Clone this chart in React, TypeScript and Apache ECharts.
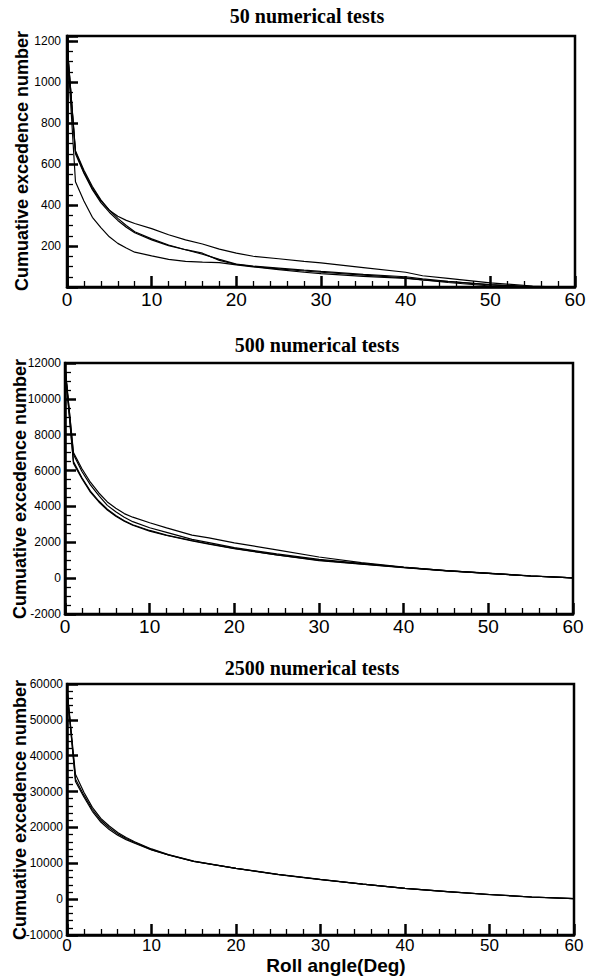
import React, { useEffect, useRef } from "react";
import * as echarts from "echarts";

// ---------- Panel 1: 50 numerical tests ----------
const angles50 = [0, 1, 2, 3, 4, 5, 6, 7, 8, 10, 12, 14, 16, 18, 20, 22, 25, 28, 30, 35, 40, 42, 45, 50, 55, 58, 60];
const run50A = [1190, 514, 420, 340, 290, 245, 213, 190, 170, 152, 135, 125, 121, 119, 108, 98, 85, 72, 65, 52, 42, 35, 26, 12, 2, 0, 0];
const run50B = [1190, 660, 560, 480, 420, 375, 345, 325, 310, 285, 255, 230, 210, 185, 165, 150, 138, 125, 118, 95, 72, 55, 42, 20, 5, 0, 0];
const run50C = [1190, 665, 570, 490, 425, 375, 335, 300, 270, 235, 205, 182, 160, 135, 112, 102, 92, 82, 76, 62, 50, 40, 28, 10, 0, 0, 0];
const run50D = [1190, 650, 555, 475, 412, 365, 325, 292, 265, 230, 202, 182, 165, 130, 110, 100, 88, 78, 72, 58, 45, 35, 22, 5, 0, 0, 0];

// ---------- Panel 2: 500 numerical tests ----------
const angles500 = [0, 1, 2, 3, 4, 5, 6, 7, 8, 10, 12, 15, 17, 20, 25, 30, 35, 40, 45, 50, 55, 60];
const run500A = [11800, 7000, 6100, 5350, 4750, 4250, 3900, 3600, 3400, 3090, 2800, 2400, 2250, 1970, 1580, 1180, 870, 620, 420, 270, 120, 20];
const run500B = [11800, 6900, 5950, 5200, 4600, 4060, 3700, 3400, 3150, 2810, 2550, 2160, 1980, 1700, 1350, 1050, 820, 600, 420, 270, 120, 20];
const run500C = [11800, 6500, 5600, 4850, 4300, 3840, 3500, 3200, 2980, 2660, 2400, 2100, 1920, 1660, 1300, 1000, 800, 600, 420, 280, 130, 20];
const run500D = [11800, 6400, 5550, 4800, 4250, 3800, 3450, 3180, 2950, 2620, 2380, 2080, 1900, 1640, 1300, 980, 780, 580, 410, 270, 120, 20];

// ---------- Panel 3: 2500 numerical tests ----------
const angles2500 = [0, 1, 2, 3, 4, 5, 6, 7, 8, 10, 12, 15, 20, 25, 30, 35, 40, 45, 50, 55, 60];
const run2500A = [58500, 34800, 29800, 25600, 22500, 20400, 18600, 17200, 16000, 14000, 12400, 10600, 8600, 6900, 5500, 4200, 3000, 2100, 1300, 600, 150];
const run2500B = [58500, 33500, 29000, 25000, 22000, 19900, 18200, 16900, 15800, 13800, 12350, 10550, 8580, 6880, 5480, 4180, 2990, 2090, 1290, 600, 150];
const run2500C = [58500, 32800, 28500, 24500, 21500, 19400, 17800, 16600, 15600, 13700, 12300, 10500, 8560, 6860, 5460, 4170, 2980, 2080, 1280, 590, 150];

const titles = ["50 numerical tests", "500 numerical tests", "2500 numerical tests"];
const yAxisTitle = "Cumuative excedence number";
const xAxisTitle = "Roll angle(Deg)";

const pairs = (xs: number[], ys: number[]) => xs.map((x, i) => [x, ys[i]]);

export default function App() {
  const ref = useRef<HTMLDivElement>(null);

  useEffect(() => {
    if (!ref.current) return;
    const chart = echarts.init(ref.current, null, { renderer: "svg" });

    const sans = "Liberation Sans, Arial, sans-serif";
    const serif = "Liberation Serif, Times New Roman, serif";
    const TICK = "#000";
    const majorTick = { show: true, inside: true, length: 11, lineStyle: { color: TICK, width: 2.5 } };
    const minorLine = { color: TICK, width: 1.3 };

    const grids = [
      { left: 67, top: 36, width: 508, height: 251 },
      { left: 65, top: 363, width: 508, height: 251 },
      { left: 67, top: 684, width: 507, height: 251 },
    ];

    const xAxisBase = (gi: number, fontSize: number, margin: number) => ({
      type: "value",
      gridIndex: gi,
      min: 0,
      max: 60,
      interval: 10,
      axisLine: { show: true, onZero: false, lineStyle: { color: "#000", width: 2.5 } },
      axisTick: majorTick,
      minorTick: { show: true, splitNumber: 5, length: 6, lineStyle: minorLine },
      splitLine: { show: false },
      axisLabel: { color: "#000", fontSize, fontFamily: sans, margin },
    });

    const plain = (v: number) => String(v);

    const yAxes: any[] = [
      {
        type: "value",
        gridIndex: 0,
        position: "left",
        min: 0,
        max: 1225,
        interval: 50,
        axisLine: { show: true, onZero: false, lineStyle: { color: "#000", width: 2.5 } },
        axisTick: { show: true, inside: true, length: 6, lineStyle: minorLine },
        axisLabel: { show: false },
        splitLine: { show: false },
      },
      {
        type: "value",
        gridIndex: 0,
        position: "left",
        min: 0,
        max: 1225,
        interval: 200,
        axisLine: { show: true, onZero: false, lineStyle: { color: "#000", width: 2.5 } },
        axisTick: majorTick,
        axisLabel: {
          color: "#000",
          fontSize: 12,
          fontFamily: sans,
          margin: 6,
          formatter: (v: number) => (v > 0 && v % 200 === 0 ? String(v) : ""),
        },
        splitLine: { show: false },
      },
      {
        type: "value",
        gridIndex: 1,
        min: -2000,
        max: 12000,
        interval: 2000,
        axisLine: { show: true, onZero: false, lineStyle: { color: "#000", width: 2.5 } },
        axisTick: majorTick,
        minorTick: { show: true, splitNumber: 4, length: 6, lineStyle: minorLine },
        axisLabel: { color: "#000", fontSize: 12, fontFamily: sans, margin: 4, formatter: plain },
        splitLine: { show: false },
      },
      {
        type: "value",
        gridIndex: 2,
        min: -10000,
        max: 60000,
        interval: 10000,
        axisLine: { show: true, onZero: false, lineStyle: { color: "#000", width: 2.5 } },
        axisTick: majorTick,
        minorTick: { show: true, splitNumber: 5, length: 6, lineStyle: minorLine },
        axisLabel: { color: "#000", fontSize: 12, fontFamily: sans, margin: 4, formatter: plain },
        splitLine: { show: false },
      },
    ];

    const line = (data: number[][], xi: number, yi: number) => ({
      type: "line",
      xAxisIndex: xi,
      yAxisIndex: yi,
      data,
      symbol: "none",
      smooth: false,
      lineStyle: { color: "#000", width: 1.2 },
    });

    const series = [
      line(pairs(angles50, run50A), 0, 1),
      line(pairs(angles50, run50B), 0, 1),
      line(pairs(angles50, run50C), 0, 1),
      line(pairs(angles50, run50D), 0, 1),
      line(pairs(angles500, run500A), 1, 2),
      line(pairs(angles500, run500B), 1, 2),
      line(pairs(angles500, run500C), 1, 2),
      line(pairs(angles500, run500D), 1, 2),
      line(pairs(angles2500, run2500A), 2, 3),
      line(pairs(angles2500, run2500B), 2, 3),
      line(pairs(angles2500, run2500C), 2, 3),
    ];

    const titlePos = [
      [307, 16],
      [317, 345],
      [312, 668],
    ];
    const yTitlePos = [
      [22, 161],
      [20, 489],
      [20, 810],
    ];

    const graphic: any[] = [];
    titles.forEach((t, i) => {
      graphic.push({
        type: "text",
        x: titlePos[i][0],
        y: titlePos[i][1],
        style: { text: t, fill: "#000", font: `bold 20px ${serif}`, textAlign: "center", textVerticalAlign: "middle" },
      });
      graphic.push({
        type: "text",
        x: yTitlePos[i][0],
        y: yTitlePos[i][1],
        rotation: Math.PI / 2,
        style: { text: yAxisTitle, fill: "#000", font: `bold 18px ${sans}`, textAlign: "center", textVerticalAlign: "middle" },
      });
    });
    graphic.push({
      type: "text",
      x: 336,
      y: 965,
      style: { text: xAxisTitle, fill: "#000", font: `bold 19px ${sans}`, textAlign: "center", textVerticalAlign: "middle" },
    });

    chart.setOption({
      animation: false,
      backgroundColor: "#fff",
      grid: grids.map((g) => ({ ...g, show: true, borderColor: "#000", borderWidth: 2.5 })),
      xAxis: [xAxisBase(0, 19, 3), xAxisBase(1, 19, 3), xAxisBase(2, 17, 2)],
      yAxis: yAxes,
      series,
      graphic,
    });

    return () => chart.dispose();
  }, []);

  return <div ref={ref} style={{ position: "absolute", left: 0, top: 0, width: 592, height: 978, background: "#fff" }} />;
}
